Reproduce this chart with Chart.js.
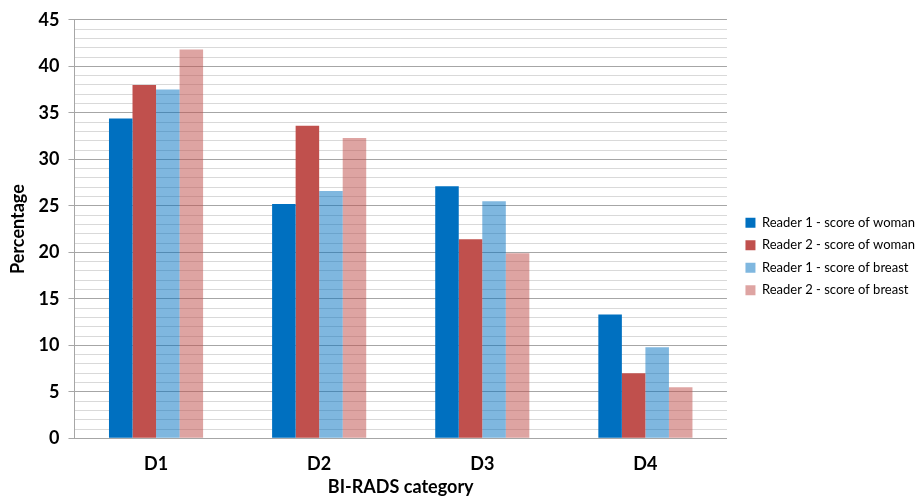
<!DOCTYPE html>
<html lang="en">
<head>
  <meta charset="UTF-8">
  <title>BI-RADS category</title>
  <script src="https://cdn.jsdelivr.net/npm/chart.js"></script>
  <style>
    body {
      margin: 0;
      padding: 0;
      background: #fff;
    }
    .chart-box {
      width: 921px;
      height: 504px;
    }
  </style>
</head>
<body>
  <div class="chart-box"><canvas id="chart"></canvas></div>

  <script>
    // Data
    const categories = ['D1', 'D2', 'D3', 'D4'];
    const seriesNames = [
      'Reader 1 - score of woman',
      'Reader 2 - score of woman',
      'Reader 1 - score of breast',
      'Reader 2 - score of breast'
    ];
    const reader1Woman = [34.4, 25.2, 27.1, 13.3];
    const reader2Woman = [38.0, 33.6, 21.4, 7.0];
    const reader1Breast = [37.5, 26.6, 25.5, 9.8];
    const reader2Breast = [41.8, 32.3, 19.9, 5.5];

    const colors = ['#0070c0', '#c0504d', 'rgba(0, 112, 192, 0.5)', 'rgba(192, 80, 77, 0.52)'];
    const values = [reader1Woman, reader2Woman, reader1Breast, reader2Breast];

    const font = 'Lato, "Liberation Sans", sans-serif';

    // push the legend items a bit away from the plot, like in the original
    const legendShift = {
      id: 'legendShift',
      afterLayout(chart) {
        if (chart.legend) {
          chart.legend.left += 9;
          chart.legend.right += 9;
        }
      }
    };

    new Chart(document.getElementById('chart'), {
      type: 'bar',
      data: {
        labels: categories,
        datasets: seriesNames.map((name, i) => ({
          label: name,
          data: values[i],
          backgroundColor: colors[i],
          borderWidth: 0,
          barPercentage: 1,
          categoryPercentage: 0.577
        }))
      },
      options: {
        responsive: true,
        maintainAspectRatio: false,
        animation: false,
        layout: {
          padding: { top: 15, right: 5, bottom: 6, left: 7 }
        },
        plugins: {
          tooltip: { enabled: false },
          legend: {
            position: 'right',
            labels: {
              color: '#000',
              boxWidth: 10,
              boxHeight: 10,
              padding: 9.5,
              font: { family: font, size: 13 }
            }
          }
        },
        scales: {
          x: {
            grid: { display: false },
            border: { color: '#a6a6a6', width: 1 },
            ticks: {
              color: '#000',
              padding: 7.5,
              font: { family: font, size: 18, weight: 'bold' }
            },
            title: {
              display: true,
              text: 'BI-RADS category',
              color: '#000',
              padding: { top: -6.5, bottom: 0 },
              font: { family: font, size: 18, weight: 'bold' }
            }
          },
          y: {
            min: 0,
            max: 45,
            grid: {
              color: (ctx) => ctx.tick && ctx.tick.value % 5 === 0 ? '#a6a6a6' : '#d9d9d9',
              tickColor: (ctx) => ctx.tick && ctx.tick.value % 5 === 0 ? '#a6a6a6' : 'rgba(0,0,0,0)',
              tickLength: 6
            },
            border: { color: '#a6a6a6', width: 1 },
            ticks: {
              stepSize: 1,
              autoSkip: false,
              color: '#000',
              padding: 9,
              font: { family: font, size: 18, weight: 'bold' },
              callback: (v) => (v % 5 === 0 ? v : '')
            },
            title: {
              display: true,
              text: 'Percentage',
              color: '#000',
              padding: { top: 0, bottom: 1 },
              font: { family: font, size: 18, weight: 'bold' }
            }
          }
        }
      },
      plugins: [legendShift]
    });
  </script>
</body>
</html>
